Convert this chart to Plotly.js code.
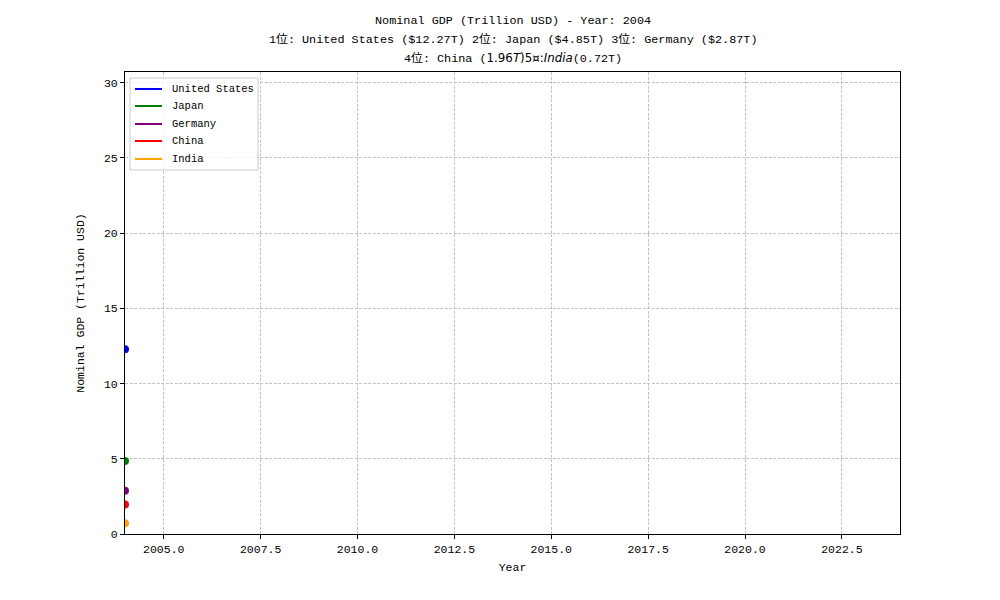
<!DOCTYPE html>
<html><head><meta charset="utf-8">
<script src="https://cdn.plot.ly/plotly-3.0.1.min.js"></script>
<style>body{margin:0;background:#fff}</style>
</head><body>
<div id="chart" style="width:1000px;height:600px"></div>
<script>
const countries = ["United States", "Japan", "Germany", "China", "India"];
const colors = ["blue", "green", "purple", "red", "orange"];
const years = [2004];
const gdp = {
  "United States": [12.27],
  "Japan": [4.85],
  "Germany": [2.87],
  "China": [1.96],
  "India": [0.72]
};
const titleLines = [
  "Nominal GDP (Trillion USD) - Year: 2004",
  "1位: United States ($12.27T) 2位: Japan ($4.85T) 3位: Germany ($2.87T)",
  "4位: China (<span style=\"font-family:DejaVu Sans\">1.96<i>T</i>)5¤:<i>India</i></span>(0.72T)"
];
const FONT = "Liberation Mono, Noto Sans CJK JP, monospace";
const traces = countries.map((c, i) => ({
  x: years, y: gdp[c], name: c, type: "scatter", mode: "lines+markers",
  line: {color: colors[i], width: 2}, marker: {color: colors[i], size: 8},
  showlegend: false
}));

// pixel helpers for plot area (l=125, t=72, w=775, h=462)
const PX = X => (X - 125) / 775;
const PY = Y => (534 - Y) / 462;

const titleY = [21, 39, 59];
const annotations = titleLines.map((t, i) => ({
  text: t, xref: "paper", yref: "paper", x: 0.5, xanchor: "center",
  y: PY(titleY[i]), yanchor: "middle", showarrow: false,
  font: {family: FONT, size: 11.8, color: "black"}
}));
const shapes = [{
  type: "rect", xref: "paper", yref: "paper",
  x0: PX(130), x1: PX(258), y0: PY(170), y1: PY(78),
  fillcolor: "rgba(255,255,255,0.8)", line: {color: "#cccccc", width: 1}
}];
const legendY = [89, 106, 124, 141, 159];
countries.forEach((c, i) => {
  shapes.push({type: "line", xref: "paper", yref: "paper",
    x0: PX(135), x1: PX(162), y0: PY(legendY[i]), y1: PY(legendY[i]),
    line: {color: colors[i], width: 2}});
  annotations.push({text: c, xref: "paper", yref: "paper",
    x: PX(170), xanchor: "left", y: PY(legendY[i]), yanchor: "middle",
    showarrow: false, font: {family: FONT, size: 10.5, color: "black"}});
});
const axisCommon = {
  showline: true, mirror: true, linecolor: "black", linewidth: 1,
  ticks: "outside", ticklen: 4, tickcolor: "black",
  gridcolor: "#c4c4c4", griddash: "3px,1.5px", gridwidth: 0.8,
  zeroline: false, tickfont: {family: FONT, size: 11.5, color: "black"}
};
const layout = {
  width: 1000, height: 600,
  paper_bgcolor: "white", plot_bgcolor: "white",
  margin: {l: 125, r: 100, t: 72, b: 66},
  font: {family: FONT, color: "black"},
  showlegend: false,
  annotations: annotations,
  shapes: shapes,
  xaxis: Object.assign({}, axisCommon, {
    range: [2004, 2024], tickvals: [2005, 2007.5, 2010, 2012.5, 2015, 2017.5, 2020, 2022.5],
    ticktext: ["2005.0", "2007.5", "2010.0", "2012.5", "2015.0", "2017.5", "2020.0", "2022.5"],
    title: {text: "Year", font: {family: FONT, size: 11.5, color: "black"}, standoff: 8}
  }),
  yaxis: Object.assign({}, axisCommon, {
    range: [0, 30.7], tickvals: [0, 5, 10, 15, 20, 25, 30],
    title: {text: "Nominal GDP (Trillion USD)", font: {family: FONT, size: 11.5, color: "black"}, standoff: 16}
  })
};
Plotly.newPlot("chart", traces, layout, {displayModeBar: false});
</script>
</body></html>
